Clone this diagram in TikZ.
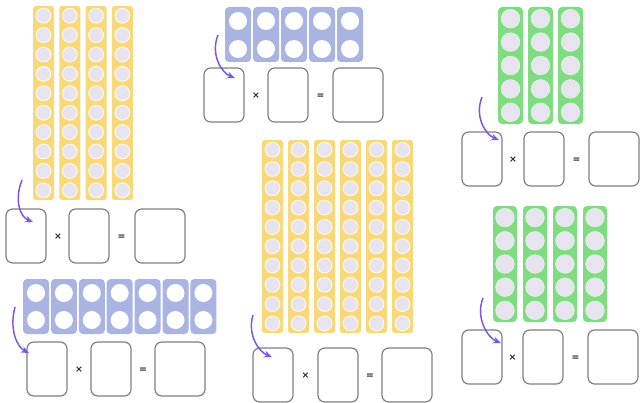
\documentclass[tikz,border=0pt]{standalone}
\usepackage{fontspec}
\newfontfamily\opfont{DejaVu Sans}
\usetikzlibrary{arrows.meta}
\definecolor{rodyellow}{HTML}{F8D878}
\definecolor{rodblue}{HTML}{A9B4E3}
\definecolor{rodgreen}{HTML}{7FDC80}
\definecolor{dotgrey}{HTML}{E7E4EF}
\definecolor{curlviolet}{HTML}{7A55E6}
\begin{document}
\begin{tikzpicture}[
  x=0.75pt, y=-0.75pt,
  ycol/.style    = {fill=rodyellow, rounded corners=2pt},
  bcol/.style    = {fill=rodblue, rounded corners=3pt},
  gcol/.style    = {fill=rodgreen, rounded corners=3pt},
  ydot/.style    = {fill=dotgrey, draw=white!80!rodyellow, line width=0.8pt},
  bdot/.style    = {fill=white},
  gdot/.style    = {fill=dotgrey, draw=white!75!rodgreen, line width=0.5pt},
  ansbox/.style  = {draw=black!50, line width=0.9pt, rounded corners=5pt, fill=white,
                    minimum width=30pt, minimum height=40.5pt, inner sep=0pt, outer sep=0pt},
  ansboxw/.style = {ansbox, minimum width=37.5pt},
  op/.style      = {font=\opfont\bfseries\scriptsize, text=black!85, inner sep=0pt},
  curl/.style    = {draw=curlviolet, line width=1.1pt, -{Stealth[length=6pt,width=5pt]}},
]
\useasboundingbox (0,0) rectangle (642,403);

% --- top left: 4 tens (yellow) ------------------------------------------
\foreach \i in {0,...,3} {
  \fill[ycol] (33+26.3*\i,6) rectangle ++(21,194);
  \foreach \j in {0,...,9}
    \filldraw[ydot] (43.5+26.3*\i,15.7+19.4*\j) circle[radius=7.4];
}
\node[ansbox, anchor=north west]  (a1) at (6,209) {};
\node[op] (ax) at (58,237) {×};
\node[ansbox, anchor=north west]  (a2) at (69,209) {};
\node[op] (aeq) at (121.5,237) {=};
\node[ansboxw, anchor=north west] (a3) at (135,209) {};
\coordinate (sa) at (22,180);
\draw[curl] (sa) .. controls +(-8,20) and +(-13,-5) .. ([shift={(7,13)}]a1.north);

% --- top middle: 5 twos (blue) ------------------------------------------
\foreach \i in {0,...,4} {
  \fill[bcol] (225+28*\i,7) rectangle ++(26,55);
  \foreach \j in {0,1}
    \fill[bdot] (238+28*\i,21+28*\j) circle[radius=9];
}
\node[ansbox, anchor=north west]  (b1) at (204,68) {};
\node[op] (bx) at (256,96) {×};
\node[ansbox, anchor=north west]  (b2) at (268,68) {};
\node[op] (beq) at (320.5,96) {=};
\node[ansboxw, anchor=north west] (b3) at (333,68) {};
\coordinate (sb) at (218,35);
\draw[curl] (sb) .. controls +(-8,20) and +(-13,-5) .. ([shift={(11,10)}]b1.north);

% --- top right: 3 fives (green) -----------------------------------------
\foreach \i in {0,...,2} {
  \fill[gcol] (498+30*\i,7) rectangle ++(25,117);
  \foreach \j in {0,...,4}
    \filldraw[gdot] (510.5+30*\i,18.7+23.4*\j) circle[radius=9.3];
}
\node[ansbox, anchor=north west]  (c1) at (462,132) {};
\node[op] (cx) at (513,160) {×};
\node[ansbox, anchor=north west]  (c2) at (524,132) {};
\node[op] (ceq) at (576.5,160) {=};
\node[ansboxw, anchor=north west] (c3) at (589,132) {};
\coordinate (sc) at (482,97);
\draw[curl] (sc) .. controls +(-8,20) and +(-13,-5) .. ([shift={(17,8)}]c1.north);

% --- bottom left: 7 twos (blue) -----------------------------------------
\foreach \i in {0,...,6} {
  \fill[bcol] (23+27.9*\i,279) rectangle ++(26,55);
  \foreach \j in {0,1}
    \fill[bdot] (36+27.9*\i,293+27*\j) circle[radius=9];
}
\node[ansbox, anchor=north west]  (d1) at (27,342) {};
\node[op] (dx) at (79,370) {×};
\node[ansbox, anchor=north west]  (d2) at (91,342) {};
\node[op] (deq) at (143,370) {=};
\node[ansboxw, anchor=north west] (d3) at (155,342) {};
\coordinate (sd) at (15,307);
\draw[curl] (sd) .. controls +(-6,22) and +(-12,-6) .. ([shift={(-18,11)}]d1.north);

% --- bottom middle: 6 tens (yellow) -------------------------------------
\foreach \i in {0,...,5} {
  \fill[ycol] (262+26*\i,140) rectangle ++(21,193);
  \foreach \j in {0,...,9}
    \filldraw[ydot] (272.5+26*\i,149.7+19.3*\j) circle[radius=7.4];
}
\node[ansbox, anchor=north west]  (e1) at (253,348) {};
\node[op] (ex) at (305.5,376) {×};
\node[ansbox, anchor=north west]  (e2) at (318,348) {};
\node[op] (eeq) at (370,376) {=};
\node[ansboxw, anchor=north west] (e3) at (382,348) {};
\coordinate (se) at (253,315);
\draw[curl] (se) .. controls +(-6,20) and +(-13,-5) .. ([shift={(-1,9)}]e1.north);

% --- bottom right: 4 fives (green) --------------------------------------
\foreach \i in {0,...,3} {
  \fill[gcol] (493+30*\i,206) rectangle ++(24,116);
  \foreach \j in {0,...,4}
    \filldraw[gdot] (505+30*\i,217.6+23.2*\j) circle[radius=9.3];
}
\node[ansbox, anchor=north west]  (f1) at (462,330) {};
\node[op] (fx) at (512.5,358) {×};
\node[ansbox, anchor=north west]  (f2) at (523,330) {};
\node[op] (feq) at (575.5,358) {=};
\node[ansboxw, anchor=north west] (f3) at (588,330) {};
\coordinate (sf) at (483,298);
\draw[curl] (sf) .. controls +(-8,20) and +(-13,-5) .. ([shift={(19,13)}]f1.north);

\end{tikzpicture}
\end{document}
